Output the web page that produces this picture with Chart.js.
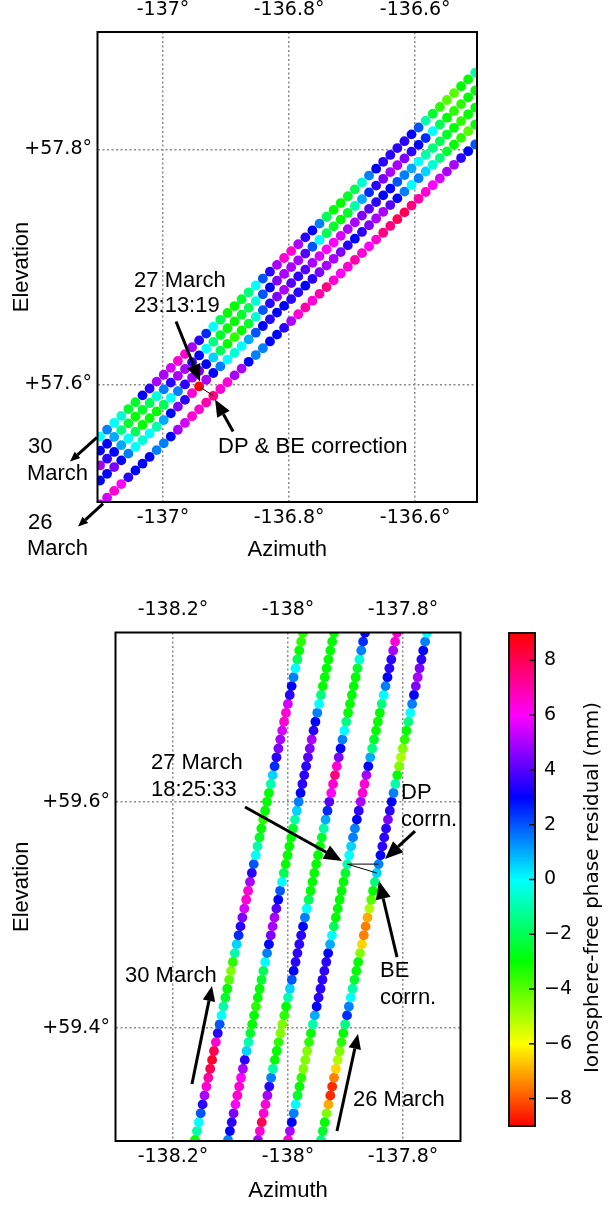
<!DOCTYPE html>
<html>
<head>
<meta charset="utf-8">
<script src="https://cdn.jsdelivr.net/npm/chart.js@4.4.1/dist/chart.umd.min.js"></script>
<style>
  html, body { margin: 0; padding: 0; background: #fff; }
  #wrap { position: relative; width: 609px; height: 1205px; overflow: hidden; background: #fff; }
  canvas { position: absolute; }
</style>
</head>
<body>
<div id="wrap">
  <canvas id="topChart" width="609" height="566" style="left:0;top:0;width:609px;height:566px"></canvas>
  <canvas id="bottomChart" width="609" height="625" style="left:0;top:580px;width:609px;height:625px"></canvas>
  <canvas id="colourBar" width="129" height="560" style="left:480px;top:600px;width:129px;height:560px"></canvas>
</div>
<script>
// ---- top panel: five passes, residual (mm) of each dot, lower-left end first
var top30Res = [0, 1.5, 0, -0.5, -2.5, -2.5, 3, 3.5, 5, 5, 5.5, 6.5, 6.5, 5, 3.5, 2.5, 0, -2, -3, -3,
  -2.5, -1.5, 0, 2, 3.5, 5, 6.5, 6.5, 5, 3.5, 3, 1.5, -2, -3, -3, -2.5, -2, -0.5, 1.5, 3,
  3.5, 3.5, 3.5, 3.5, 3, 2, -1, -2.5, -3.5, -4, -4, -3, -3, -1];
var top29Res = [3, 3, 1, -1.5, -2.5, -3, -2.5, -2, -0.5, 1.5, 3.5, 5, 5, 3.5, 3, 0, -1.5, -2.5, -3, -3,
  -2.5, -2, -0.5, 2, 3, 4.5, 5, 5, 5, 4, 2, 0, -2, -2.5, -3, -2.5, -1, 1, 2.5, 3.5,
  4.5, 5, 5, 4.5, 3.5, 3, 2.5, 0, -2, -3, -3.5, -3.5, -3, -3];
var top28Res = [5, 3.5, 3, 1, 0, -2, -3, -3, -3, -2, 0, 1.5, 3.5, 5, 4.5, 3, 0.5, -2, -3, -3.5,
  -3, -2.5, -0.5, 2, 3.5, 4.5, 5, 4, 3.5, 4, 5, 5.5, 6, 6, 5.5, 5, 5, 4.5, 4, 3.5,
  3, 3, 2, 1.5, 1, 0, -1, -1.5, -2, -2.5, -3, -3.5, -3, -3];
var top27Res = [3, 3, 4.5, 3, 1.5, 0, -0.5, 0, -1, 1, 3, 4.5, 3.5, 6.5, 8.8, 5, 3, 1.5, 0, -0.5,
  0, 1, 2, 3, 3.5, 3, 3, 3.5, 3.5, 3, 3.5, 4.5, 5, 5, 4.5, 3.5, 3, 3.5, 4.5, 5,
  5, 4, 3, 1.5, 0, 1.5, 0.5, -0.5, -1.5, -2.5, -3, -3.5, -4, -3];
var top26Res = [5.5, 5.5, 6.5, 6, 3.5, 3, 3, 3, 1.5, 1.5, 3, 5, 5.5, 6.5, 6.5, 7, 7.5, 6.5, 6.5, 5,
  5, 3, 1.5, 1.5, 3, 3, 3.5, 5, 6.5, 7, 6.5, 7, 7.5, 6.5, 6, 6.5, 7, 6.5, 6, 6.5,
  7.5, 7.5, 8, 8, 7.5, 7, 6.5, 6, 5.5, 5, 5, 3.5, 3, 2];
// first and last dot of each top pass, [azimuth, elevation]
var topFirst = [[-137.1, 57.5557], [-137.1, 57.5438], [-137.1, 57.5311], [-137.1, 57.5183], [-137.1, 57.4979]];
var topLast = [[-136.5048, 57.8655], [-136.5048, 57.8502], [-136.5048, 57.8357], [-136.5048, 57.8213], [-136.5048, 57.8043]];
var topAzTicks = [-137, -136.8, -136.6];
var topElTicks = [57.6, 57.8];

// ---- bottom panel: five passes, bottom end first
var bot30Res = [-3, -1, 0, 2, 3.5, 5, 6.5, 7, 8, 8.5, 8, 6.5, 3.5, 2, 0, -1, -2.5, -3, -4, -4.5,
  -3.5, -1, 0.5, 2.5, 3.5, 4.5, 5.5, 6.5, 6.5, 5, 3.5, 2, 0, -1, -2.5, -3, -3.5, -3, -3, -3,
  -1, 0.5, 2.5, 3.5, 4.5, 5, 5.5, 6.5, 6.5, 5.5, 3.5, 3, 1.5, 0, -2, -3, -3.5, -3.5];
var bot29Res = [1.5, 3, 3.5, 4.5, 6, 6.5, 6.5, 6, 5, 3.5, 0.5, -1, -2.5, -3, -3, -3.5, -3, -3, -2.5, -2,
  0, 1.5, 3, 4.5, 5, 5, 4, 3, 2, 0, -2, -3, -3, -3, -3, -2.5, -1, 0.5, 1.5, 3,
  3.5, 3.5, 3.5, 4, 4.5, 5, 3.5, 3, 1.5, 0, -1.5, -3, -3, -3, -3, -3, -3, -3];
var bot28Res = [5, 6.5, 8, 6.5, 6.5, 5, 3.5, 1.5, -1, -3, -3, -3.5, -4.5, -4.5, -3.5, -3, -1, 0.5, 2, 3,
  3.5, 3.5, 3.5, 3.5, 3, 1.5, 0, -2, -3, -3, -3, -3, -3, -3, -2.5, -1, 1, 2.5, 4, 6,
  6.5, 7.5, 6.5, 4.5, 3, 1.5, 0, -1.5, -3, -3, -3, -3, -3, -2.5, -0.5, 1.5, 2.5, 3];
var bot27Res = [6.5, 5, 3, 1.5, 0, -2.5, -3, -3.5, -4.5, -4.5, -4.5, -3.5, -3, -1, 1, 3, 3.5, 3.5, 3.5, 3.5,
  3.5, 3, 1, 0, -2, -3, -3, -3, -3, -3, -2.5, -1, 0, 0.5, 1.5, 1.5, 3, 3.5, 5, 6.5,
  6.5, 5, 3, 1, -1.5, -2.5, -3, -3, -3, -1.5, 0, 1.5, 3, 3.5, 3.5, 5, 6.5, 6.5];
var bot26Res = [-1.5, -2.5, -3, -4.5, -7, -8.5, -8.5, -7.5, -6.5, -5, -4.5, -3.5, -3, -1.5, 2.5, 1.5, 0, -1, -2.5, -3,
  -3, -4.5, -6.5, -7.5, -7.5, -7, -5, -4, -3, -1.5, 0.5, 1.5, 3, 3.5, 3.5, 3.5, 4.5, 3.5, 3, 1.5,
  -1, -3, -4.5, -5, -4.5, -3.5, -3, -1.5, 0, 1.5, 3, 4.5, 5, 4.5, 3.5, 3, 1.5, 0];
var botFirst = [[-138.1617, 59.3009], [-138.1043, 59.3009], [-138.0522, 59.3009], [-138.0, 59.3009], [-137.9426, 59.3009]];
var botLast = [[-137.9739, 59.7498], [-137.92, 59.7498], [-137.8661, 59.7498], [-137.8104, 59.7498], [-137.7583, 59.7498]];
var botAzTicks = [-138.2, -138, -137.8];
var botElTicks = [59.4, 59.6];

// ---- colour bar
var cbMin = -9, cbMax = 9;
var cbTicks = [-8, -6, -4, -2, 0, 2, 4, 6, 8];

Chart.defaults.font.family = "'DejaVu Sans', sans-serif";
Chart.defaults.color = '#000';
Chart.defaults.animation = false;

// hsv colour map over -9..9 mm
function residualColour(v) {
  var t = (Math.max(cbMin, Math.min(cbMax, v)) - cbMin) / (cbMax - cbMin);
  return 'hsl(' + (t * 360).toFixed(1) + ',100%,50%)';
}

// dots of one pass, evenly spaced in time between its first and last sample
function passPoints(first, last, res) {
  var n = res.length;
  return res.map(function (v, i) {
    var f = i / (n - 1);
    return { x: first[0] + (last[0] - first[0]) * f, y: first[1] + (last[1] - first[1]) * f, v: v };
  });
}

function passDataset(points) {
  return {
    data: points,
    showLine: false,
    pointRadius: 4.9,
    pointHoverRadius: 4.9,
    pointBorderWidth: 0,
    pointBackgroundColor: points.map(function (p) { return residualColour(p.v); }),
    clip: 0
  };
}

function fixSize(size) {
  return function (scale) {
    if (scale.isHorizontal()) scale.height = size; else scale.width = size;
  };
}
function setTicks(values) {
  return function (scale) { scale.ticks = values.map(function (v) { return { value: v }; }); };
}
function fmtAz(v) { return v + '°'; }
function fmtEl(v) { return '+' + v.toFixed(1) + '°'; }

function drawArrow(ctx, x1, y1, x2, y2, head) {
  var ang = Math.atan2(y2 - y1, x2 - x1);
  var half = head * 0.42;
  var bx = x2 - head * Math.cos(ang), by = y2 - head * Math.sin(ang);
  ctx.lineWidth = 3;
  ctx.beginPath(); ctx.moveTo(x1, y1); ctx.lineTo(bx, by); ctx.stroke();
  ctx.beginPath();
  ctx.moveTo(x2, y2);
  ctx.lineTo(bx + half * Math.sin(ang), by - half * Math.cos(ang));
  ctx.lineTo(bx - half * Math.sin(ang), by + half * Math.cos(ang));
  ctx.closePath(); ctx.fill();
}

// frame, annotations and axis titles for one panel
function notesPlugin(notes) {
  return {
    id: 'notes',
    afterDraw: function (chart) {
      var ctx = chart.ctx, a = chart.chartArea, sx = chart.scales.x, sy = chart.scales.y;
      function px(az, el) { return [sx.getPixelForValue(az), sy.getPixelForValue(el)]; }
      ctx.save();
      ctx.strokeStyle = '#000';
      ctx.fillStyle = '#000';
      ctx.lineWidth = 2;
      ctx.strokeRect(a.left, a.top, a.right - a.left, a.bottom - a.top);

      ctx.lineWidth = 1;
      notes.links.forEach(function (l) {
        var p = px(l[0].x, l[0].y), q = px(l[1].x, l[1].y);
        ctx.beginPath(); ctx.moveTo(p[0], p[1]); ctx.lineTo(q[0], q[1]); ctx.stroke();
      });
      notes.arrows.forEach(function (r) {
        var p = px(r[0], r[1]), q = px(r[2], r[3]);
        drawArrow(ctx, p[0], p[1], q[0], q[1], r[4]);
      });

      ctx.font = '22px "Liberation Sans", Arial, sans-serif';
      ctx.textAlign = 'left';
      ctx.textBaseline = 'alphabetic';
      notes.texts.forEach(function (t) {
        var p = px(t[1], t[2]);
        ctx.fillText(t[0], p[0], p[1]);
      });

      ctx.textAlign = 'center';
      ctx.textBaseline = 'middle';
      ctx.fillText('Azimuth', (a.left + a.right) / 2, a.bottom + notes.titleGap);
      ctx.translate(22, (a.top + a.bottom) / 2);
      ctx.rotate(-Math.PI / 2);
      ctx.fillText('Elevation', 0, 0);
      ctx.restore();
    }
  };
}

function panelScales(azMin, azMax, elMin, elMax, azTicks, elTicks, sizes) {
  var tickFont = { size: 19 };
  var grid = { color: '#8a8a8a', lineWidth: 1.5, drawTicks: false };
  var border = { display: false, dash: [2, 2.5] };
  return {
    x: {
      type: 'linear', position: 'bottom', min: azMin, max: azMax,
      afterBuildTicks: setTicks(azTicks), afterFit: fixSize(sizes.bottom),
      ticks: { callback: fmtAz, padding: sizes.padBottom, maxRotation: 0, autoSkip: false, font: tickFont },
      grid: grid, border: border
    },
    x2: {
      type: 'linear', axis: 'x', position: 'top', min: azMin, max: azMax,
      afterBuildTicks: setTicks(azTicks), afterFit: fixSize(sizes.top),
      ticks: { callback: fmtAz, padding: sizes.padTop, maxRotation: 0, autoSkip: false, font: tickFont },
      grid: { display: false }, border: { display: false }
    },
    y: {
      type: 'linear', position: 'left', min: elMin, max: elMax,
      afterBuildTicks: setTicks(elTicks), afterFit: fixSize(sizes.left),
      ticks: { callback: fmtEl, padding: 5.5, autoSkip: false, font: tickFont },
      grid: grid, border: border
    }
  };
}

// ---------- top panel
var topRes = [top30Res, top29Res, top28Res, top27Res, top26Res];
var topPasses = topRes.map(function (r, k) { return passPoints(topFirst[k], topLast[k], r); });

var topNotes = {
  titleGap: 48,
  links: [[topPasses[3][14], topPasses[4][16]]],
  arrows: [
    [-136.9794, 57.6536, -136.9413, 57.6026, 17],
    [-136.8889, 57.5600, -136.9175, 57.5872, 17],
    [-137.1048, 57.5549, -137.1476, 57.5345, 10],
    [-137.0952, 57.4987, -137.1349, 57.4791, 10]
  ],
  texts: [
    ['27 March', -137.046, 57.6834],
    ['23:13:19', -137.046, 57.6621],
    ['DP & BE correction', -136.9127, 57.5421],
    ['30', -137.2143, 57.5413],
    ['March', -137.2159, 57.5191],
    ['26', -137.2143, 57.4774],
    ['March', -137.2159, 57.4553]
  ]
};

new Chart(document.getElementById('topChart'), {
  type: 'scatter',
  data: { datasets: topPasses.map(passDataset) },
  options: {
    responsive: false, devicePixelRatio: 1, events: [],
    layout: { padding: { left: 0, right: 132, top: 0, bottom: 0 } },
    plugins: { legend: { display: false }, tooltip: { enabled: false } },
    scales: panelScales(-137.104, -136.502, 57.5, 57.9, topAzTicks, topElTicks,
      { bottom: 64, top: 32, left: 97.5, padBottom: 5, padTop: 3 })
  },
  plugins: [notesPlugin(topNotes)]
});

// ---------- bottom panel
var botRes = [bot30Res, bot29Res, bot28Res, bot27Res, bot26Res];
var botPasses = botRes.map(function (r, k) { return passPoints(botFirst[k], botLast[k], r); });

var botNotes = {
  titleGap: 50,
  links: [[botPasses[3][31], botPasses[4][31]], [botPasses[3][31], botPasses[4][30]]],
  arrows: [
    [-138.0748, 59.5956, -137.9061, 59.5478, 18],
    [-137.7791, 59.5743, -137.8313, 59.5496, 18],
    [-137.8104, 59.4628, -137.8417, 59.5301, 18],
    [-138.1670, 59.3504, -138.1322, 59.4372, 15],
    [-137.9148, 59.3088, -137.8783, 59.3947, 15]
  ],
  texts: [
    ['27 March', -138.2383, 59.6292],
    ['18:25:33', -138.2383, 59.6053],
    ['DP', -137.8035, 59.6027],
    ['corrn.', -137.8035, 59.5788],
    ['BE', -137.84, 59.4451],
    ['corrn.', -137.84, 59.4212],
    ['30 March', -138.2835, 59.4407],
    ['26 March', -137.887, 59.331]
  ]
};

new Chart(document.getElementById('bottomChart'), {
  type: 'scatter',
  data: { datasets: botPasses.map(passDataset) },
  options: {
    responsive: false, devicePixelRatio: 1, events: [],
    layout: { padding: { left: 0, right: 148.5, top: 0, bottom: 0 } },
    plugins: { legend: { display: false }, tooltip: { enabled: false } },
    scales: panelScales(-138.3, -137.7, 59.3, 59.75, botAzTicks, botElTicks,
      { bottom: 64, top: 52.5, left: 115.5, padBottom: 4.6, padTop: 3 })
  },
  plugins: [notesPlugin(botNotes)]
});

// ---------- colour bar
var colourBarPlugin = {
  id: 'colourBar',
  beforeDatasetsDraw: function (chart) {
    var ctx = chart.ctx, a = chart.chartArea, sy = chart.scales.y;
    var g = ctx.createLinearGradient(0, a.bottom, 0, a.top);
    for (var v = cbMin; v <= cbMax; v += 0.5) g.addColorStop((v - cbMin) / (cbMax - cbMin), residualColour(v));
    ctx.save();
    ctx.fillStyle = g;
    ctx.fillRect(a.left, a.top, a.right - a.left, a.bottom - a.top);
    ctx.strokeStyle = '#111';
    ctx.lineWidth = 1.5;
    cbTicks.forEach(function (t) {
      var y = sy.getPixelForValue(t);
      ctx.beginPath(); ctx.moveTo(a.right - 6, y); ctx.lineTo(a.right, y); ctx.stroke();
    });
    ctx.lineWidth = 2;
    ctx.strokeRect(a.left, a.top, a.right - a.left, a.bottom - a.top);
    ctx.fillStyle = '#000';
    ctx.font = "20px 'DejaVu Sans', sans-serif";
    ctx.textAlign = 'center';
    ctx.textBaseline = 'middle';
    ctx.translate(113, (a.top + a.bottom) / 2 + 8);
    ctx.rotate(-Math.PI / 2);
    ctx.fillText('Ionosphere-free phase residual (mm)', 0, 0);
    ctx.restore();
  }
};

new Chart(document.getElementById('colourBar'), {
  type: 'scatter',
  data: { datasets: [{ data: [] }] },
  options: {
    responsive: false, devicePixelRatio: 1, events: [],
    layout: { padding: { left: 29, right: 0, top: 33, bottom: 34 } },
    plugins: { legend: { display: false }, tooltip: { enabled: false } },
    scales: {
      x: { display: false, min: 0, max: 1 },
      y: {
        position: 'right', min: cbMin, max: cbMax,
        afterBuildTicks: setTicks(cbTicks), afterFit: fixSize(74),
        ticks: { padding: 9, font: { size: 19 }, autoSkip: false,
          callback: function (v) { return v < 0 ? '\u2212' + Math.abs(v) : String(v); } },
        grid: { display: false, drawTicks: false }, border: { display: false }
      }
    }
  },
  plugins: [colourBarPlugin]
});
</script>
</body>
</html>
